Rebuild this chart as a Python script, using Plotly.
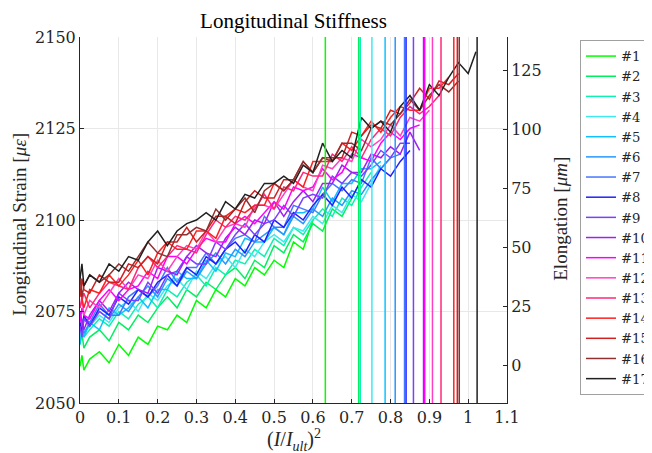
import plotly.graph_objects as go

# (I/I_ult)^2 sample positions shared by all specimens
X_GRID = [0, 0.005, 0.01, 0.025, 0.05, 0.075, 0.1, 0.125, 0.15, 0.175, 0.2, 0.225,
          0.25, 0.275, 0.3, 0.325, 0.35, 0.375, 0.4, 0.425, 0.45, 0.475, 0.5, 0.525,
          0.55, 0.575, 0.6, 0.625, 0.65, 0.675, 0.7, 0.725, 0.75, 0.775, 0.8, 0.825,
          0.85, 0.875, 0.9, 0.925, 0.95, 0.975, 1.0, 1.02]

S1 = [2060, 2063, 2059, 2062, 2064, 2061, 2066, 2063, 2068, 2066, 2071, 2070, 2074, 2072, 2078, 2076, 2081, 2079, 2084, 2082, 2087, 2085, 2089, 2087, 2094, 2092, 2100]
S2 = [2066, 2069, 2065, 2068, 2070, 2067, 2072, 2070, 2074, 2072, 2076, 2079, 2076, 2081, 2079, 2083, 2081, 2085, 2087, 2084, 2089, 2087, 2093, 2091, 2096, 2094, 2099, 2097, 2103, 2101, 2106, 2111]
S3 = [2067, 2071, 2068, 2070, 2073, 2071, 2075, 2073, 2077, 2079, 2076, 2081, 2079, 2083, 2085, 2082, 2087, 2085, 2089, 2088, 2092, 2090, 2095, 2093, 2098, 2096, 2100, 2103, 2101, 2106, 2104, 2109, 2113]
S4 = [2068, 2072, 2069, 2071, 2074, 2072, 2076, 2078, 2075, 2080, 2078, 2082, 2084, 2081, 2086, 2084, 2088, 2090, 2087, 2092, 2090, 2094, 2096, 2094, 2098, 2097, 2101, 2099, 2104, 2102, 2107, 2105, 2110, 2115]
S5 = [2066, 2070, 2068, 2072, 2070, 2076, 2074, 2076, 2079, 2076, 2081, 2081, 2086, 2084, 2084, 2089, 2086, 2091, 2090, 2095, 2094, 2094, 2098, 2096, 2102, 2102, 2103, 2109, 2105, 2110, 2110, 2114, 2114, 2116]
S6 = [2070, 2073, 2069, 2072, 2075, 2073, 2077, 2075, 2079, 2082, 2079, 2084, 2082, 2086, 2084, 2088, 2091, 2088, 2092, 2090, 2094, 2096, 2098, 2096, 2101, 2099, 2103, 2101, 2106, 2104, 2108, 2107, 2111, 2114, 2117]
S7 = [2072, 2069, 2073, 2072, 2077, 2074, 2074, 2079, 2081, 2079, 2082, 2087, 2083, 2087, 2087, 2091, 2088, 2092, 2095, 2096, 2094, 2101, 2098, 2098, 2104, 2103, 2102, 2107, 2110, 2108, 2111, 2110, 2117, 2114, 2117, 2118]
S8 = [2072, 2069, 2074, 2071, 2076, 2074, 2079, 2077, 2081, 2079, 2083, 2085, 2082, 2087, 2085, 2090, 2088, 2092, 2094, 2091, 2096, 2094, 2100, 2098, 2102, 2100, 2104, 2107, 2104, 2109, 2106, 2111, 2109, 2114, 2112, 2116, 2119]
S9 = [2071, 2068, 2073, 2071, 2075, 2073, 2080, 2078, 2078, 2083, 2080, 2085, 2086, 2090, 2088, 2088, 2094, 2092, 2096, 2099, 2096, 2099, 2100, 2104, 2101, 2106, 2107, 2106, 2112, 2110, 2113, 2112, 2115, 2119, 2117, 2121, 2121]
S10 = [2075, 2072, 2070, 2074, 2078, 2075, 2080, 2083, 2081, 2080, 2087, 2086, 2085, 2090, 2093, 2091, 2090, 2095, 2098, 2096, 2100, 2099, 2105, 2101, 2105, 2108, 2105, 2110, 2110, 2115, 2113, 2113, 2118, 2117, 2120, 2118, 2124, 2119]
S11 = [2072, 2076, 2074, 2073, 2078, 2081, 2078, 2081, 2082, 2086, 2084, 2090, 2090, 2088, 2092, 2095, 2094, 2094, 2099, 2101, 2099, 2102, 2105, 2103, 2109, 2108, 2109, 2114, 2111, 2113, 2118, 2117, 2116, 2121, 2124, 2122, 2125, 2126]
S12 = [2076, 2079, 2074, 2078, 2076, 2080, 2084, 2081, 2085, 2084, 2089, 2086, 2090, 2093, 2092, 2097, 2094, 2098, 2099, 2098, 2104, 2104, 2103, 2107, 2111, 2109, 2108, 2115, 2114, 2117, 2116, 2122, 2120, 2122, 2126, 2123, 2128, 2127, 2130]
S13 = [2076, 2078, 2080, 2076, 2080, 2083, 2082, 2081, 2087, 2090, 2087, 2090, 2093, 2092, 2091, 2096, 2100, 2098, 2101, 2100, 2103, 2107, 2103, 2109, 2108, 2113, 2112, 2112, 2118, 2116, 2120, 2117, 2122, 2125, 2123, 2128, 2131, 2129, 2131, 2134]
S14 = [2081, 2078, 2076, 2081, 2080, 2085, 2082, 2085, 2089, 2085, 2091, 2094, 2092, 2092, 2097, 2097, 2095, 2101, 2103, 2102, 2104, 2104, 2110, 2108, 2111, 2109, 2116, 2116, 2116, 2121, 2119, 2123, 2127, 2124, 2128, 2131, 2130, 2130, 2136, 2136, 2139]
S15 = [2079, 2084, 2081, 2080, 2085, 2083, 2083, 2088, 2087, 2090, 2088, 2094, 2094, 2098, 2094, 2097, 2101, 2101, 2099, 2105, 2108, 2106, 2106, 2111, 2111, 2116, 2113, 2117, 2117, 2117, 2124, 2123, 2126, 2125, 2130, 2129, 2132, 2136, 2133, 2138, 2137, 2140]
S16 = [2085, 2079, 2082, 2085, 2083, 2085, 2088, 2086, 2090, 2094, 2091, 2090, 2096, 2096, 2098, 2097, 2103, 2100, 2103, 2106, 2102, 2108, 2110, 2108, 2111, 2116, 2113, 2117, 2116, 2121, 2121, 2119, 2125, 2127, 2126, 2129, 2133, 2130, 2134, 2137, 2135, 2138]
S17 = [2084, 2088, 2082, 2085, 2083, 2088, 2086, 2090, 2089, 2094, 2097, 2093, 2097, 2099, 2100, 2102, 2100, 2105, 2103, 2107, 2106, 2110, 2110, 2112, 2110, 2115, 2113, 2121, 2116, 2119, 2117, 2128, 2125, 2127, 2124, 2131, 2134, 2130, 2137, 2134, 2139, 2143, 2140, 2146]

SERIES = [S1, S2, S3, S4, S5, S6, S7, S8, S9, S10, S11, S12, S13, S14, S15, S16, S17]
LABELS = ["#%d" % i for i in range(1, 18)]

# (I/I_ult)^2 at failure for each specimen
FAILURE_X = [0.632, 0.718, 0.722, 0.752, 0.786, 0.812, 0.836, 0.840, 0.859,
             0.885, 0.888, 0.908, 0.930, 0.963, 0.972, 0.977, 1.023]

COLORS = ["#00ff00", "#00f060", "#10f0b0", "#40e8f0", "#10c0ff", "#2898ff",
          "#4478ff", "#2020ff", "#7840ff", "#a020f0", "#ff00ff", "#ff40c0",
          "#ff2878", "#ff2020", "#d02020", "#903030", "#202020"]

X_TICKS = [0, 0.1, 0.2, 0.3, 0.4, 0.5, 0.6, 0.7, 0.8, 0.9, 1.0, 1.1]
X_TICK_TEXT = ["0", "0.1", "0.2", "0.3", "0.4", "0.5", "0.6", "0.7", "0.8", "0.9", "1", "1.1"]
Y_TICKS = [2050, 2075, 2100, 2125, 2150]
Y2_TICKS = [0, 25, 50, 75, 100, 125]

TICK_FONT = dict(family="DejaVu Serif", size=16, color="#262626")
TEX_FONT = "Liberation Serif"

# page body has an 8 px margin: figure spans window x 8..652, y 8..453
W, H = 644, 445
ML, MR, MT, MB = 72, 145, 29, 49.5
PW, PH = W - ML - MR, H - MT - MB


def px_x(wx):
    """window x pixel -> paper x"""
    return (wx - 8 - ML) / PW


def px_y(wy):
    """window y pixel -> paper y"""
    return (H - MB - (wy - 8)) / PH


fig = go.Figure()
for ys, lab, col in zip(SERIES, LABELS, COLORS):
    fig.add_trace(go.Scatter(x=X_GRID[:len(ys)], y=ys, mode="lines", name=lab,
                             line=dict(color=col, width=1.5)))

for fx, col in zip(FAILURE_X, COLORS):
    fig.add_shape(type="line", xref="x", yref="paper", x0=fx, x1=fx, y0=0, y1=1,
                  line=dict(color=col, width=1.5), layer="above")

# empty trace so the right axis is drawn
fig.add_trace(go.Scatter(x=[], y=[], yaxis="y2", showlegend=False, hoverinfo="skip"))

axis_common = dict(showline=True, linecolor="#262626", linewidth=1, ticks="inside",
                   ticklen=4, tickcolor="#262626", tickfont=TICK_FONT, zeroline=False)

fig.update_layout(
    width=W, height=H,
    margin=dict(l=ML, r=MR, t=MT, b=MB, autoexpand=False),
    paper_bgcolor="white", plot_bgcolor="white",
    title=dict(text="Longitudinal Stiffness", x=0.5, xref="paper", xanchor="center",
               y=1 - 13 / H, yref="container", yanchor="middle",
               font=dict(family=TEX_FONT, size=21, color="black")),
    xaxis=dict(range=[0, 1.1], tickvals=X_TICKS, ticktext=X_TICK_TEXT,
               showgrid=True, gridcolor="#e8e8e8", gridwidth=1, **axis_common),
    yaxis=dict(range=[2050, 2150], tickvals=Y_TICKS, showgrid=True,
               gridcolor="#e8e8e8", gridwidth=1, **axis_common),
    yaxis2=dict(range=[-15.75, 139.2], tickvals=Y2_TICKS, overlaying="y", side="right",
                showgrid=False, **axis_common),
    legend=dict(x=px_x(580), xref="paper", xanchor="left", y=px_y(40),
                yanchor="top", bordercolor="#a0a0a0", borderwidth=1, bgcolor="white",
                font=dict(family="DejaVu Serif", size=13.2, color="#262626"),
                itemwidth=30, tracegroupgap=0),
    showlegend=True,
    annotations=[
        dict(text="(<i>I</i>/<i>I</i><sub><i>ult</i></sub>)<sup>2</sup>", xref="paper",
             yref="paper", x=0.5, y=px_y(441), xanchor="center",
             yanchor="middle", showarrow=False,
             font=dict(family=TEX_FONT, size=20, color="#262626")),
        dict(text="Longitudinal Strain [<i>με</i>]", xref="paper", yref="paper",
             x=px_x(20), y=px_y(225), textangle=-90, xanchor="center",
             yanchor="middle", showarrow=False,
             font=dict(family=TEX_FONT, size=19, color="#262626")),
        dict(text="Elongation [<i>μm</i>]", xref="paper", yref="paper",
             x=px_x(561), y=px_y(219), textangle=-90, xanchor="center",
             yanchor="middle", showarrow=False,
             font=dict(family=TEX_FONT, size=19, color="#262626")),
    ],
)

fig.write_html("out.html")
